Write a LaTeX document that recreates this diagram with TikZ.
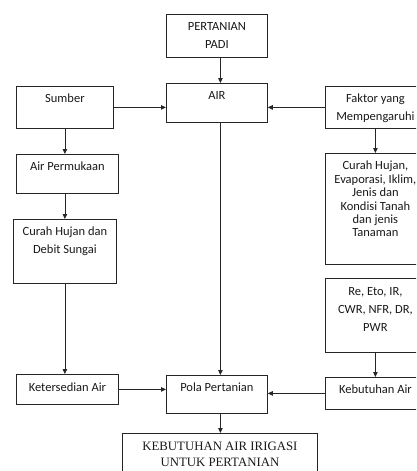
\documentclass[tikz,border=0pt]{standalone}
\usepackage{fontspec}
\setmainfont{Carlito}
\newfontfamily\serifrm{Liberation Serif}
\usetikzlibrary{arrows.meta}
\tikzset{
  box/.style={draw=black!85, line width=0.8pt, rectangle, inner sep=0pt, anchor=north west},
  txt/.style={anchor=north, inner sep=0pt, align=center, font=\fontsize{12.5}{18}\selectfont, text=black!90},
  arr/.style={draw=black!85, line width=0.8pt, -{Triangle[length=5pt,width=4.5pt]}},
  ln/.style={draw=black!85, line width=0.8pt}
}
\begin{document}
\begin{tikzpicture}[x=1pt,y=-1pt]
\useasboundingbox (0,0) rectangle (416,471);
\clip (0,0) rectangle (416,471);
% boxes
\node[box, minimum width=101pt, minimum height=43pt] (padi) at (166,14) {};
\node[box, minimum width=101pt, minimum height=39pt] (air) at (166,83) {};
\node[box, minimum width=97pt, minimum height=42pt] (sumber) at (16,86) {};
\node[box, minimum width=100pt, minimum height=42pt] (faktor) at (325,86) {};
\node[box, minimum width=102pt, minimum height=39pt] (airperm) at (16,154) {};
\node[box, minimum width=103pt, minimum height=64pt] (curahL) at (13,219) {};
\node[box, minimum width=100pt, minimum height=111pt] (curahR) at (325,153) {};
\node[box, minimum width=100pt, minimum height=74pt] (re) at (325,278) {};
\node[box, minimum width=102pt, minimum height=30pt] (keter) at (16,374) {};
\node[box, minimum width=101pt, minimum height=38pt] (pola) at (166,375) {};
\node[box, minimum width=100pt, minimum height=32pt] (kebair) at (325,377) {};
\node[box, minimum width=195pt, minimum height=50pt] (kebir) at (122,433) {};
% texts
\node[txt] (tpadi) at ([yshift=-8pt]padi.north) {PERTANIAN\\PADI};
\node[txt] (tair) at ([yshift=-8pt]air.north) {AIR};
\node[txt] (tsumber) at ([yshift=-8pt]sumber.north) {Sumber};
\node[txt] (tfaktor) at ([yshift=-8pt]faktor.north) {Faktor yang\\Mempengaruhi};
\node[txt] (tairperm) at ([yshift=-8pt]airperm.north) {Air Permukaan};
\node[txt] (tcurahL) at ([yshift=-8pt]curahL.north) {Curah Hujan dan\\Debit Sungai};
\node[txt, font=\fontsize{12.5}{13.4}\selectfont] (tcurahR) at ([yshift=-8pt]curahR.north) {Curah Hujan,\\Evaporasi, Iklim,\\Jenis dan\\Kondisi Tanah\\dan jenis\\Tanaman};
\node[txt] (tre) at ([yshift=-9pt]re.north) {Re, Eto, IR,\\CWR, NFR, DR,\\PWR};
\node[txt] (tketer) at ([yshift=-9pt]keter.north) {Ketersedian Air};
\node[txt] (tpola) at ([yshift=-8pt]pola.north) {Pola Pertanian};
\node[txt] (tkebair) at ([yshift=-8pt]kebair.north) {Kebutuhan Air};
\node[txt, font=\serifrm\fontsize{12.8}{16}\selectfont] (tkebir) at ([yshift=-9pt]kebir.north) {KEBUTUHAN AIR IRIGASI\\UNTUK PERTANIAN};
% connectors
\draw[arr] ([xshift=3.5pt]padi.south) -- ([xshift=3.5pt]air.north);
\draw[arr] (sumber.east) -- (sumber.east -| air.west);
\draw[arr] (faktor.west) -- (faktor.west -| air.east);
\draw[arr] (sumber.south) -- (sumber.south |- airperm.north);
\draw[arr] (airperm.south -| sumber.south) -- (sumber.south |- curahL.north);
\draw[arr] (curahL.south -| sumber.south) -- (sumber.south |- keter.north);
\draw[arr] (faktor.south) -- (curahR.north);
\draw[arr] (re.south) -- (kebair.north);
\draw[arr] ([xshift=3.5pt]air.south) -- ([xshift=3.5pt]pola.north);
\draw[arr] (keter.east) -- (keter.east -| pola.west);
\draw[arr] (kebair.west) -- (kebair.west -| pola.east);
\draw[arr] ([xshift=3.5pt]pola.south) -- ([xshift=3.5pt]pola.south |- kebir.north);
\end{tikzpicture}
\end{document}
